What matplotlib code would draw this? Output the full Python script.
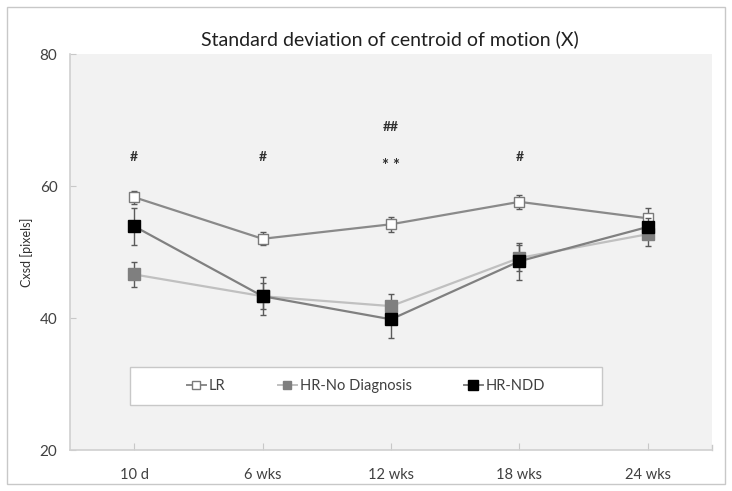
import matplotlib
matplotlib.use("Agg")
import matplotlib.pyplot as plt
from matplotlib.patches import Rectangle
from matplotlib.lines import Line2D

plt.rcParams['font.family'] = ['Lato', 'DejaVu Sans']

categories = ["10 d", "6 wks", "12 wks", "18 wks", "24 wks"]
lr_mean = [58.3, 52.0, 54.2, 57.6, 55.1]
lr_err = [1.0, 1.0, 1.1, 1.1, 1.6]
hrnd_mean = [46.6, 43.3, 41.8, 49.1, 52.7]
hrnd_err = [1.9, 2.0, 1.9, 2.0, 1.8]
hrndd_mean = [53.9, 43.3, 39.8, 48.6, 53.8]
hrndd_err = [2.8, 2.9, 2.8, 2.8, 1.4]
yticks = [20, 40, 60, 80]
annotations = [("#", 0, 64.4, 10), ("#", 1, 64.4, 10), ("* *", 2, 63.0, 12),
               ("##", 2, 68.9, 10), ("#", 3, 64.4, 10)]

W, H = 732, 491
fig = plt.figure(figsize=(W / 100, H / 100), dpi=100)
fig.patch.set_facecolor("white")
fig.patches.append(Rectangle((7 / W, 1 - 484 / H), 718 / W, 477 / H, transform=fig.transFigure,
                             fill=False, edgecolor="#c8c8c8", lw=1.0))

ax = fig.add_axes([70 / W, 1 - 450 / H, 642 / W, 396 / H])
ax.set_facecolor("#f2f2f2")
x = list(range(len(categories)))

ecol = "#5a5a5a"
series = [
    (lr_mean, lr_err, "LR", "white", "#7a7a7a", "#8a8a8a", 7.5),
    (hrnd_mean, hrnd_err, "HR-No Diagnosis", "#7f7f7f", "#7f7f7f", "#c0c0c0", 8),
    (hrndd_mean, hrndd_err, "HR-NDD", "black", "black", "#808080", 9),
]
handles = []
for z, (m, e, lab, fc, mec, lc, ms) in enumerate(series):
    ax.errorbar(x, m, yerr=e, fmt="none", ecolor=ecol, elinewidth=1.0, capsize=2.5,
                capthick=1.0, zorder=2 + z)
    ax.plot(x, m, color=lc, lw=1.6, zorder=3 + z)
    ax.plot(x, m, ls="none", marker="s", ms=ms, mfc=fc, mec=mec, mew=1.0, zorder=4 + z)
    handles.append(Line2D([], [], color=lc, lw=1.4, marker="s", ms=ms * 0.8, mfc=fc,
                          mec=mec, mew=1.0, label=lab))

for txt, xi, yv, fs in annotations:
    ax.text(xi, yv, txt, ha="center", va="center", fontsize=fs, color="#303030",
            fontweight="bold")

ax.set_xlim(-0.5, 4.5)
ax.set_ylim(20, 80)
ax.set_yticks(yticks)
ax.set_xticks(x)
ax.set_xticklabels(categories)
ax.tick_params(axis="y", direction="in", length=4, color="#c8c8c8", pad=9,
               labelsize=11, labelcolor="#404040")
ax.tick_params(axis="x", direction="in", length=5, color="#c8c8c8", pad=13,
               labelsize=10.5, labelcolor="#404040")
ax.plot([1, 1], [0, 0.012], transform=ax.transAxes, color="#c8c8c8", lw=1, clip_on=False)
for s in ["top", "right"]:
    ax.spines[s].set_visible(False)
for s in ["left", "bottom"]:
    ax.spines[s].set_color("#d0d0d0")
    ax.spines[s].set_linewidth(1.2)

ax.set_ylabel("Cxsd [pixels]", fontsize=9, color="#303030")
ax.yaxis.set_label_coords((33 - 70) / 642, 0.5)
fig.text(390 / W, 1 - 39 / H, "Standard deviation of centroid of motion (X)", fontsize=14,
         color="#202020", ha="center", va="center")

bx0, bx1 = (130 - 70) / 642, (602 - 70) / 642
by0, by1 = (450 - 405) / 396, (450 - 367) / 396
ax.add_patch(Rectangle((bx0, by0), bx1 - bx0, by1 - by0, transform=ax.transAxes,
                       facecolor="white", edgecolor="#c8c8c8", lw=1.0, zorder=10))
leg = ax.legend(handles=handles, loc="center", bbox_to_anchor=((bx0 + bx1) / 2, (by0 + by1) / 2),
                ncol=3, frameon=False, fontsize=10.5, columnspacing=3.6, handlelength=1.3,
                handletextpad=0.2, labelcolor="#404040")
leg.set_zorder(11)

fig.savefig("out.png", dpi=100)
